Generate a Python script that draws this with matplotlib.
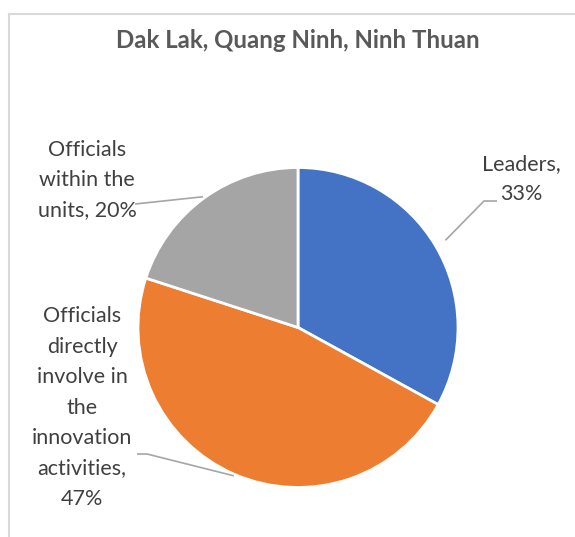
import numpy as np
import matplotlib.pyplot as plt
from matplotlib.lines import Line2D

plt.rcParams['font.family'] = ['Lato', 'DejaVu Sans']

# Survey shares by group
groups = ["Leaders", "Officials\ndirectly\ninvolve in\nthe\ninnovation\nactivities", "Officials\nwithin the\nunits"]
shares = [33, 47, 20]
colors = ["#4472C4", "#ED7D31", "#A5A5A5"]
title = "Dak Lak, Quang Ninh, Ninh Thuan"

W, H = 575, 537
fig = plt.figure(figsize=(W / 100, H / 100), dpi=100)
ax = fig.add_axes([0, 0, 1, 1])


def py(y):
    # pixel row (from top) -> data y
    return H - y


# chart frame (only left and top edges are inside the image)
fig.add_artist(Line2D([8.5 / W, 8.5 / W], [0, 1 - 14 / H], color="#D9D9D9", lw=1.5))
fig.add_artist(Line2D([8.5 / W, 1], [1 - 14 / H, 1 - 14 / H], color="#D9D9D9", lw=1.5))

cx, cy, R = 298, py(327.5), 160
wedges, _ = ax.pie(shares, colors=colors, startangle=90, counterclock=False,
                   center=(cx, cy), radius=R,
                   wedgeprops=dict(edgecolor="white", linewidth=2))

ax.text(298, py(40), title, ha="center", va="center", fontsize=17.3,
        fontweight="bold", color="#595959")

# label text position, separator before the value, leader-line path, anchor radius
label_pos = [(521, 179), (82, 407.5), (87, 180)]
seps = [",\n", ",\n", ", "]
elbows = [[(484, 201), (497, 201)], [(147, 454), (137, 454)], [(135, 204)]]
anchor_r = [1.07, 1.01, 1.01]

start = 90.0
for i, (name, val) in enumerate(zip(groups, shares)):
    span = val / sum(shares) * 360
    mid = np.deg2rad(start - span / 2)
    start -= span
    x0 = cx + anchor_r[i] * R * np.cos(mid)
    y0 = cy + anchor_r[i] * R * np.sin(mid)
    xs = [x0] + [p[0] for p in elbows[i]]
    ys = [y0] + [py(p[1]) for p in elbows[i]]
    ax.plot(xs, ys, color="#A6A6A6", lw=1.2, solid_capstyle="butt")
    tx, ty = label_pos[i]
    ax.text(tx, py(ty), f"{name}{seps[i]}{val}%", ha="center", va="center",
            fontsize=15.5, color="#404040", linespacing=1.65)

ax.set_xlim(0, W)
ax.set_ylim(0, H)
ax.set_aspect('equal')
ax.axis('off')

fig.savefig("out.png", dpi=100)
